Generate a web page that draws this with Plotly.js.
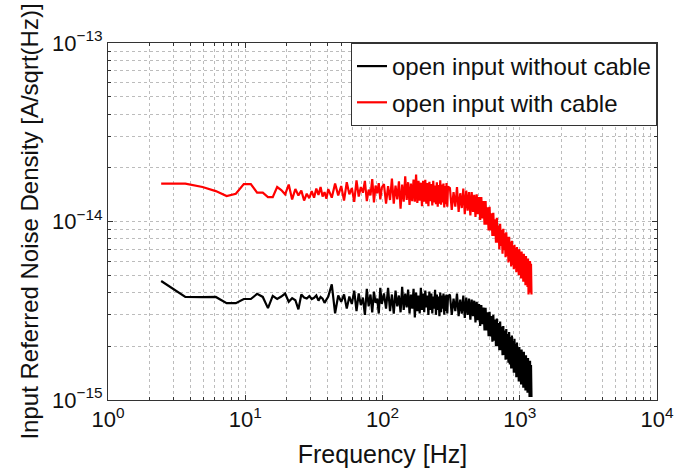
<!DOCTYPE html>
<html>
<head>
<meta charset="utf-8">
<script src="https://cdn.plot.ly/plotly-3.0.1.min.js"></script>
<style>html,body{margin:0;padding:0;background:#fff;}#chart{width:700px;height:472px;}</style>
</head>
<body>
<div id="chart"></div>
<script>
// Frequency grid [Hz]
var freq = [
2.44,3.66,4.88,6.10,7.32,8.54,9.76,10.98,12.20,13.42,14.64,15.86,17.08,
18.30,19.52,20.74,21.96,23.18,24.40,25.62,26.84,28.06,29.28,30.50,31.72,32.94,34.16,35.38,36.60,37.82,39.04,40.26,
42.70,45.14,47.58,50.02,52.46,54.90,57.34,59.78,62.22,64.66,67.10,69.54,71.98,74.42,76.86,79.30,81.74,84.18,86.62,89.06,91.50,93.94,96.38,98.82,
102.48,106.14,109.80,113.46,117.12,120.78,124.44,128.10,131.76,135.42,139.08,142.74,146.40,150.06,153.72,157.38,161.04,164.70,168.36,172.02,175.68,179.34,183.00,186.66,190.32,193.98,197.64,201.30,204.96,208.62,212.28,215.94,219.60,223.26,226.92,230.58,234.24,237.90,241.56,245.22,248.88,252.54,256.20,259.86,263.52,267.18,270.84,274.50,278.16,281.82,285.48,289.14,292.80,296.46,300.12,
309.88,319.64,329.40,339.16,348.92,358.68,368.44,378.20,387.96,397.72,407.48,417.24,427.00,436.76,446.52,456.28,466.04,475.80,485.56,495.32,505.08,514.84,524.60,534.36,544.12,553.88,563.64,573.40,583.16,592.92,602.68,612.44,622.20,631.96,641.72,651.48,661.24,671.00,680.76,690.52,700.28,710.04,719.80,729.56,739.32,749.08,758.84,768.60,778.36,788.12,797.88,807.64,817.40,827.16,836.92,846.68,856.44,866.20,875.96,885.72,895.48,905.24,915.00,924.76,934.52,944.28,954.04,963.80,973.56,983.32,993.08,1002.84,1012.60,1022.36,1032.12,1041.88,1051.64,1061.40,1071.16,1080.92,1090.68,1100.44,1110.20,1119.96,1129.72,1139.48,1149.24,1159.00,1168.76,1178.52,1188.28,1198.04,1207.80,1217.56
];

// Noise density, in units of 1e-15 A/sqrt(Hz)
var withoutCable = [
4.64,3.78,3.77,3.78,3.49,3.49,3.68,3.68,3.93,3.78,3.27,3.83,3.68,
3.80,3.95,3.55,3.72,3.62,3.22,3.90,3.75,3.70,3.82,3.68,3.74,3.85,3.60,3.78,3.70,3.50,3.65,3.80,
4.45,3.06,3.85,3.55,3.90,3.25,3.80,3.45,4.10,3.15,3.95,3.40,3.75,3.00,4.20,3.35,3.90,3.10,4.05,3.50,3.70,3.05,4.25,3.45,
3.95,3.25,4.25,3.15,3.90,3.05,4.10,3.35,3.85,3.10,4.30,3.20,3.95,3.30,4.15,3.05,3.90,3.25,4.20,2.90,4.00,3.15,3.85,3.05,4.25,3.20,3.95,3.10,4.10,3.30,3.85,3.00,4.05,3.20,3.95,3.05,3.80,3.25,4.15,3.00,3.90,3.20,3.80,2.95,4.00,3.10,3.85,3.25,3.95,3.00,3.85,3.15,3.90,3.05,3.80,
3.90,3.00,3.70,3.15,3.95,2.95,3.65,3.05,3.85,2.88,3.75,3.00,3.70,2.82,3.65,2.95,3.60,2.72,3.55,2.80,3.45,2.60,3.40,2.66,3.30,2.45,3.28,2.45,3.10,2.28,3.12,2.27,2.95,2.12,3.00,2.15,2.82,2.00,2.86,2.00,2.70,1.90,2.75,1.90,2.58,1.78,2.60,1.79,2.45,1.68,2.50,1.69,2.34,1.62,2.40,1.58,2.25,1.50,2.30,1.50,2.15,1.42,2.20,1.42,2.06,1.34,2.10,1.35,1.96,1.27,1.98,1.31,1.88,1.22,1.92,1.25,1.82,1.17,1.86,1.21,1.74,1.13,1.78,1.17,1.68,1.10,1.72,1.11,1.64,1.04,1.66,1.08,1.57,1.04,1.55,1.02,1.53,1.08
];
var withCable = [
16.3,16.3,15.6,14.8,13.9,14.3,16.2,16.2,14.5,14.5,13.7,13.7,15.6,
15.0,14.2,16.1,13.3,15.2,14.0,14.9,13.1,14.3,13.5,14.8,13.6,15.3,14.1,15.6,13.8,14.6,13.4,15.2,
13.6,16.3,14.0,15.8,13.1,16.6,14.2,15.4,12.9,17.0,13.8,15.6,14.5,16.9,13.0,15.1,14.0,17.3,12.8,15.9,14.4,16.4,13.3,15.5,
16.2,12.6,15.8,13.2,17.4,12.6,15.9,13.3,16.8,11.8,16.1,12.9,17.9,13.2,16.6,12.4,16.3,13.0,17.2,12.9,18.3,12.7,16.9,13.1,16.5,12.2,16.9,12.9,17.1,12.6,16.4,12.2,16.7,13.0,16.2,12.3,16.9,12.8,15.9,12.5,16.6,12.1,16.0,12.6,17.0,12.4,16.1,12.8,16.3,12.0,15.8,12.5,16.4,12.1,15.7,
15.4,11.6,14.6,12.1,15.6,11.3,14.4,11.9,15.3,11.0,14.9,11.5,14.6,10.8,14.6,11.3,14.1,10.6,14.2,11.0,13.7,10.2,13.7,10.4,13.0,9.6,13.0,9.6,12.0,8.9,12.1,8.9,11.1,8.3,11.2,8.3,10.3,7.6,10.5,7.6,9.5,7.0,9.7,7.3,9.0,6.6,9.1,6.9,8.6,6.3,8.7,6.4,8.2,5.9,8.2,6.0,7.7,5.6,7.8,5.7,7.3,5.4,7.4,5.5,7.1,5.2,7.2,5.3,6.9,5.0,7.0,5.1,6.6,4.8,6.8,4.9,6.4,4.6,6.6,4.7,6.2,4.4,6.4,4.6,6.1,4.3,6.2,3.9,5.8,4.1,6.0,4.0,5.8,3.9,5.9,4.2
];
var seriesNames = ['open input without cable', 'open input with cable'];
var seriesColors = ['#000000', '#ff0000'];

var xTickVals = [1, 10, 100, 1000, 10000];
var xTickText = ['10<sup>0</sup>', '10<sup>1</sup>', '10<sup>2</sup>', '10<sup>3</sup>', '10<sup>4</sup>'];
var yTickVals = [1e-15, 1e-14, 1e-13];
var yTickText = ['10<sup>\u221215</sup>', '10<sup>\u221214</sup>', '10<sup>\u221213</sup>'];

var UNIT = 1e-15;
function scale(a) { return a.map(function (v) { return v * UNIT; }); }

function minorVals(lo, hi) {
  var out = [];
  for (var e = lo; e < hi; e++) {
    for (var m = 2; m <= 9; m++) out.push(m * Math.pow(10, e));
  }
  return out;
}

var traces = [withoutCable, withCable].map(function (arr, i) {
  return {
    x: freq, y: scale(arr), type: 'scatter', mode: 'lines',
    name: seriesNames[i], legendgroup: 'g' + i,
    line: { color: seriesColors[i], width: 2.2, simplify: false }
  };
});

var gridColor = '#bcbcbc';
var font = 'Liberation Sans, Arial, Helvetica, sans-serif';

var layout = {
  width: 700, height: 472,
  margin: { l: 108, r: 43, t: 43, b: 72, pad: 0 },
  paper_bgcolor: '#ffffff', plot_bgcolor: '#ffffff',
  font: { family: font, color: '#111', size: 22 },
  showlegend: true,
  legend: {
    x: 1, y: 1, xanchor: 'right', yanchor: 'top',
    bgcolor: '#ffffff', bordercolor: '#333', borderwidth: 1,
    font: { family: font, size: 24, color: '#111' },
    traceorder: 'grouped', tracegroupgap: 2,
    itemwidth: 30
  },
  xaxis: {
    type: 'log', range: [0, 4],
    tickmode: 'array', tickvals: xTickVals, ticktext: xTickText,
    ticks: 'inside', ticklen: 5, tickcolor: '#333',
    showline: true, linecolor: '#333', linewidth: 1, mirror: 'ticks',
    showgrid: true, gridcolor: gridColor, griddash: 'dot', gridwidth: 1,
    zeroline: false,
    tickfont: { family: font, size: 22, color: '#111' },
    minor: { tickmode: 'array', tickvals: minorVals(0, 4), ticks: 'inside', ticklen: 3, tickcolor: '#333', showgrid: true, gridcolor: gridColor, griddash: 'dot', gridwidth: 1 },
    title: { text: 'Frequency [Hz]', font: { family: font, size: 25, color: '#111' }, standoff: 14 }
  },
  yaxis: {
    type: 'log', range: [-15, -13],
    tickmode: 'array', tickvals: yTickVals, ticktext: yTickText,
    ticks: 'inside', ticklen: 5, tickcolor: '#333',
    showline: true, linecolor: '#333', linewidth: 1, mirror: 'ticks',
    showgrid: true, gridcolor: gridColor, griddash: 'dot', gridwidth: 1,
    zeroline: false,
    tickfont: { family: font, size: 22, color: '#111' },
    minor: { tickmode: 'array', tickvals: minorVals(-15, -13), ticks: 'inside', ticklen: 3, tickcolor: '#333', showgrid: true, gridcolor: gridColor, griddash: 'dot', gridwidth: 1 },
    title: { text: 'Input Referred Noise Density [A/sqrt(Hz)]', font: { family: font, size: 24, color: '#111' }, standoff: 6 }
  }
};

Plotly.newPlot('chart', traces, layout, { displayModeBar: false, staticPlot: true });
</script>
</body>
</html>
